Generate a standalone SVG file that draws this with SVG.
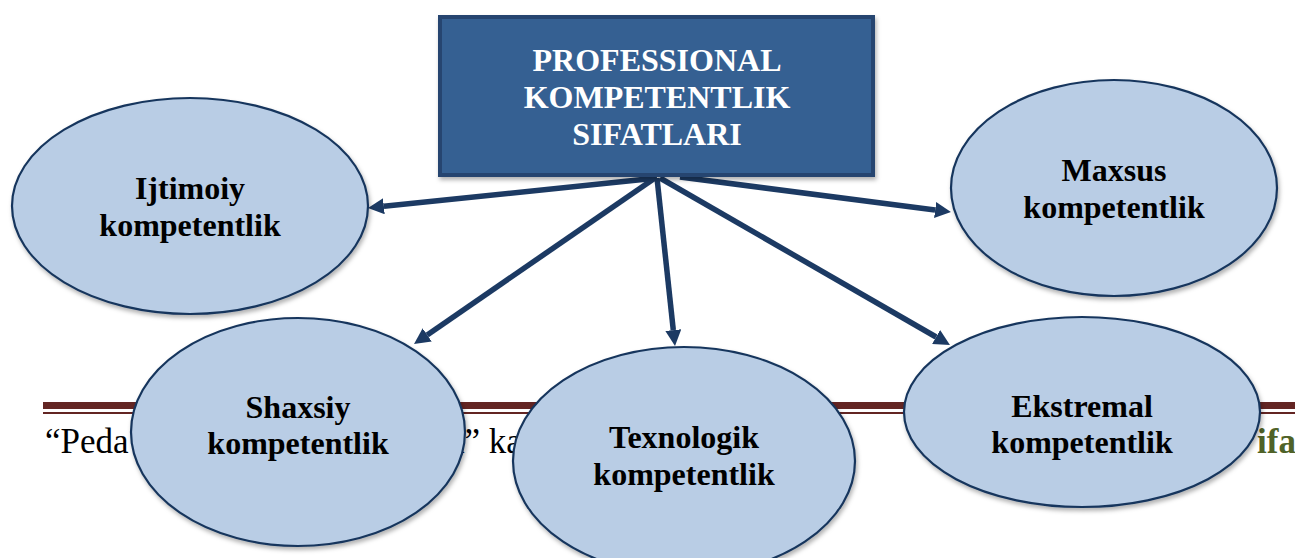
<svg xmlns="http://www.w3.org/2000/svg" width="1295" height="558" viewBox="0 0 1295 558">
<style>
.bg{font-family:"Liberation Serif","Times New Roman",serif;font-size:35px;fill:#000}
.node{fill:#b9cde5;stroke:#17365d;stroke-width:2.2}
.lbl{font-family:"Liberation Serif","Times New Roman",serif;font-size:32px;font-weight:bold;fill:#000;text-anchor:middle}
.title{font-family:"Liberation Serif","Times New Roman",serif;font-size:32px;font-weight:bold;fill:#fff;text-anchor:middle}
.conn{stroke:#1c3a63;stroke-width:5.5;fill:none;marker-end:url(#ah)}
</style>
<defs>
<marker id="ah" viewBox="0 0 16 16" markerWidth="16" markerHeight="16" markerUnits="userSpaceOnUse" refX="0" refY="8" orient="auto">
<path d="M0,0 L16,8 L0,16 z" fill="#1c3a63"/>
</marker>
<filter id="sh" x="-10%" y="-10%" width="125%" height="130%">
<feDropShadow dx="1.5" dy="3" stdDeviation="2" flood-color="#000" flood-opacity="0.3"/>
</filter>
</defs>
<rect width="1295" height="558" fill="#fff"/>
<g id="background">
<rect x="43" y="402" width="1252" height="7" fill="#632523"/>
<rect x="43" y="412" width="1252" height="2" fill="#632523"/>
<text class="bg" x="45" y="453">“Peda</text>
<text class="bg" x="449" y="453">a” ka</text>
<text x="1257" y="453" style="font-family:'Liberation Serif',serif;font-size:35px;font-weight:bold;fill:#4f6228">ifa</text>
</g>
<g id="connectors">
<line class="conn" x1="657" y1="178" x2="383.9" y2="206.3"/>
<line class="conn" x1="680" y1="177" x2="935.1" y2="210"/>
<line class="conn" x1="655" y1="178" x2="427.2" y2="334.9"/>
<line class="conn" x1="657" y1="178" x2="673.3" y2="330.1"/>
<line class="conn" x1="660" y1="178" x2="936.1" y2="337"/>
</g>
<g id="center">
<rect x="440" y="17" width="433" height="158" fill="#366092" stroke="#254470" stroke-width="4" filter="url(#sh)"/>
<text class="title" x="657" y="71">PROFESSIONAL</text>
<text class="title" x="657" y="108">KOMPETENTLIK</text>
<text class="title" x="657" y="145">SIFATLARI</text>
</g>
<g id="ijtimoiy">
<ellipse class="node" cx="190" cy="206" rx="178" ry="108" filter="url(#sh)"/>
<text class="lbl" x="190" y="199">Ijtimoiy</text>
<text class="lbl" x="190" y="236">kompetentlik</text>
</g>
<g id="maxsus">
<ellipse class="node" cx="1114" cy="188" rx="163" ry="108" filter="url(#sh)"/>
<text class="lbl" x="1114" y="181">Maxsus</text>
<text class="lbl" x="1114" y="218">kompetentlik</text>
</g>
<g id="shaxsiy">
<ellipse class="node" cx="298" cy="432" rx="167" ry="114" filter="url(#sh)"/>
<text class="lbl" x="298" y="418">Shaxsiy</text>
<text class="lbl" x="298" y="454">kompetentlik</text>
</g>
<g id="texnologik">
<ellipse class="node" cx="684" cy="461" rx="171" ry="114" filter="url(#sh)"/>
<text class="lbl" x="684" y="448">Texnologik</text>
<text class="lbl" x="684" y="485">kompetentlik</text>
</g>
<g id="ekstremal">
<ellipse class="node" cx="1082" cy="412" rx="178" ry="95" filter="url(#sh)"/>
<text class="lbl" x="1082" y="417">Ekstremal</text>
<text class="lbl" x="1082" y="453">kompetentlik</text>
</g>
</svg>
